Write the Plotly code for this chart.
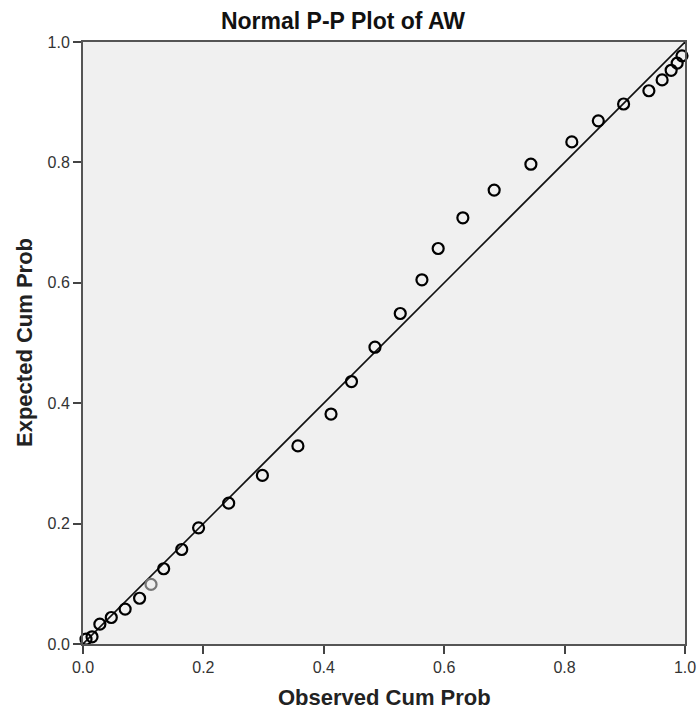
import plotly.graph_objects as go

# Observed vs expected cumulative probabilities
observed_cum_prob = [0.005, 0.015, 0.028, 0.047, 0.070, 0.094, 0.113, 0.134, 0.164, 0.192,
                     0.242, 0.298, 0.357, 0.412, 0.446, 0.485, 0.527, 0.563, 0.590, 0.631,
                     0.683, 0.744, 0.812, 0.856, 0.898, 0.940, 0.962, 0.977, 0.987, 0.995]
expected_cum_prob = [0.008, 0.012, 0.033, 0.044, 0.058, 0.076, 0.099, 0.125, 0.157, 0.193,
                     0.234, 0.280, 0.329, 0.382, 0.436, 0.493, 0.549, 0.605, 0.657, 0.708,
                     0.754, 0.797, 0.834, 0.869, 0.897, 0.919, 0.937, 0.953, 0.965, 0.977]
reference_line = [0.0, 1.0]
tick_vals = [0.0, 0.2, 0.4, 0.6, 0.8, 1.0]
tick_text = ["0.0", "0.2", "0.4", "0.6", "0.8", "1.0"]

W, H = 699, 716
L, R, T, B = 83, 14, 42, 72

marker_colors = ["#000000"] * len(observed_cum_prob)
marker_colors[6] = "#777777"

fig = go.Figure()
fig.add_trace(go.Scatter(
    x=reference_line, y=reference_line, mode="lines",
    line=dict(color="#111111", width=1.6), hoverinfo="skip", showlegend=False,
    cliponaxis=False,
))
fig.add_trace(go.Scatter(
    x=observed_cum_prob, y=expected_cum_prob, mode="markers",
    marker=dict(symbol="circle-open", size=11, color=marker_colors,
                line=dict(width=2.2, color=marker_colors)),
    showlegend=False, cliponaxis=False,
))

axis_common = dict(
    range=[0, 1], tickvals=tick_vals, ticktext=tick_text,
    showgrid=False, zeroline=False, automargin=False,
    showline=True, mirror=True, linecolor="#555555", linewidth=2,
    ticks="outside", ticklen=8, tickwidth=1.5, tickcolor="#444444",
    tickfont=dict(family="Liberation Sans, Arial", size=16, color="#333333"),
)

fig.update_layout(
    width=W, height=H,
    margin=dict(l=L, r=R, t=T, b=B, pad=0, autoexpand=False),
    paper_bgcolor="white", plot_bgcolor="#f0f0f0",
    xaxis=dict(**axis_common),
    yaxis=dict(**axis_common),
    title=dict(text="Normal P-P Plot of AW", x=343 / W, xanchor="center",
               y=1 - 21 / H, yanchor="middle", xref="container", yref="container",
               font=dict(family="Liberation Sans, Arial", size=23, color="#111111", weight="bold")),
    annotations=[
        dict(text="Observed Cum Prob", xref="paper", yref="paper", x=0.5, y=0,
             xanchor="center", yanchor="middle", yshift=-53, showarrow=False,
             font=dict(family="Liberation Sans, Arial", size=22, color="#222222", weight="bold")),
        dict(text="Expected Cum Prob", xref="paper", yref="paper", x=0, y=0.5,
             xanchor="center", yanchor="middle", xshift=-59, textangle=-90, showarrow=False,
             font=dict(family="Liberation Sans, Arial", size=22, color="#222222", weight="bold")),
    ],
)

fig.write_html(
    "out.html",
    config={"displayModeBar": False},
    post_script="document.body.style.margin='0';document.body.style.padding='0';",
)
